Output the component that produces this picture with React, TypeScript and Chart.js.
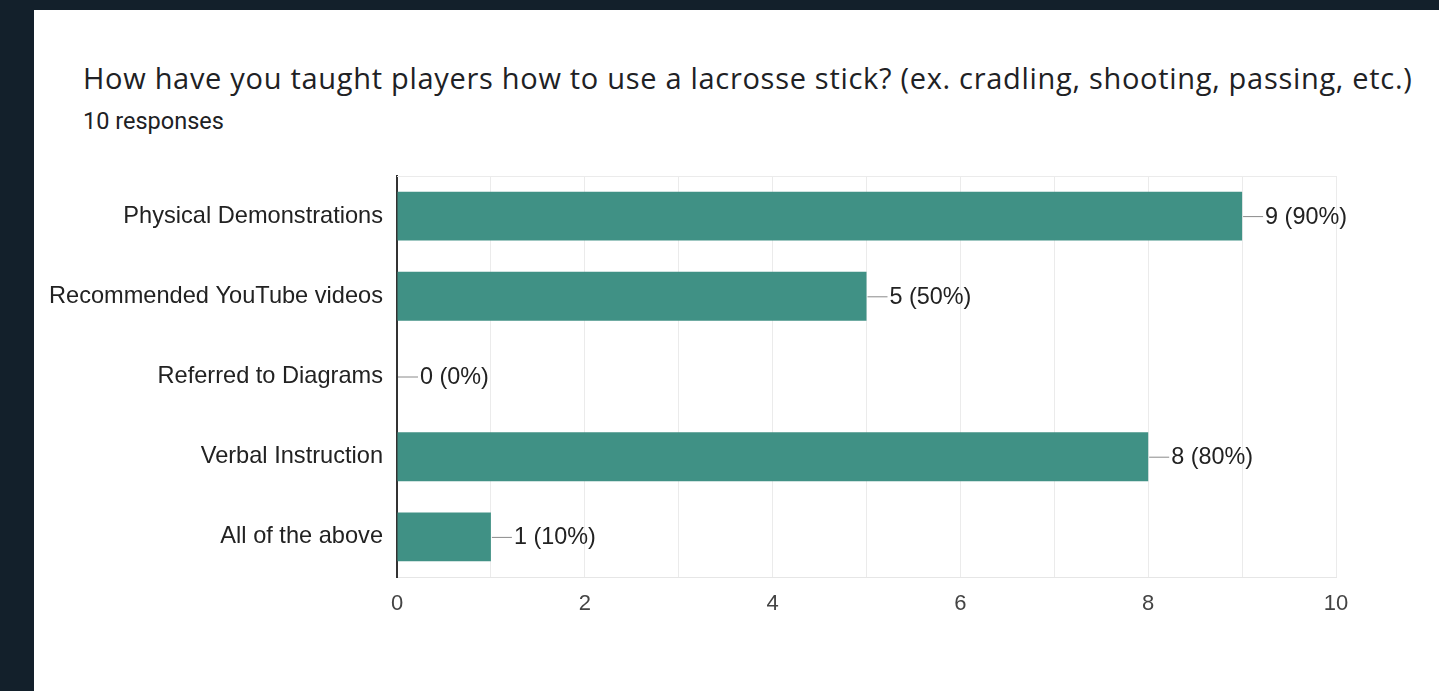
import React, { useEffect, useRef } from "react";
import { Chart, registerables } from "chart.js";

Chart.register(...registerables);

const TITLE = "How have you taught players how to use a lacrosse stick? (ex. cradling, shooting, passing, etc.)";
const RESPONSES = 10;
const categories = [
  "Physical Demonstrations",
  "Recommended YouTube videos",
  "Referred to Diagrams",
  "Verbal Instruction",
  "All of the above",
];
const counts = [9, 5, 0, 8, 1];
const xTicks = [0, 2, 4, 6, 8, 10];

const W = 1439;
const H = 691;

const valueLabels = {
  id: "valueLabels",
  afterDatasetsDraw(chart: any) {
    const ctx = chart.ctx;
    const meta = chart.getDatasetMeta(0);
    ctx.save();
    meta.data.forEach((el: any, i: number) => {
      const v = counts[i];
      const x = el.x;
      const y = el.y;
      ctx.strokeStyle = "#8a8a8a";
      ctx.lineWidth = 1;
      ctx.beginPath();
      ctx.moveTo(x + 1, y + 0.5);
      ctx.lineTo(x + 21, y + 0.5);
      ctx.stroke();
      ctx.fillStyle = "#222222";
      ctx.font = "23.4px 'Liberation Sans', Arial, sans-serif";
      ctx.textBaseline = "middle";
      ctx.textAlign = "left";
      ctx.fillText(`${v} (${Math.round((v / RESPONSES) * 100)}%)`, x + 23, y + 1);
    });
    ctx.restore();
  },
};

const topLine = {
  id: "topLine",
  beforeDatasetsDraw(chart: any) {
    const { ctx, chartArea } = chart;
    ctx.save();
    ctx.strokeStyle = "#ebebeb";
    ctx.lineWidth = 1;
    ctx.beginPath();
    ctx.moveTo(chartArea.left, chartArea.top + 0.5);
    ctx.lineTo(chartArea.right, chartArea.top + 0.5);
    ctx.stroke();
    ctx.restore();
  },
};

export default function App() {
  const ref = useRef<HTMLCanvasElement | null>(null);
  useEffect(() => {
    if (!ref.current) return;
    const chart = new Chart(ref.current, {
      type: "bar",
      data: {
        labels: categories,
        datasets: [
          {
            data: counts,
            backgroundColor: "#409185",
            borderWidth: 0,
            barPercentage: 0.61,
            categoryPercentage: 1,
          },
        ],
      },
      options: {
        indexAxis: "y",
        responsive: false,
        animation: false,
        devicePixelRatio: 1,
        layout: { padding: { left: 0, top: 176, right: 103, bottom: 74 } },
        plugins: {
          legend: { display: false },
          tooltip: { enabled: false },
          title: { display: false },
        },
        scales: {
          x: {
            min: 0,
            max: 10,
            afterFit(scale: any) {
              scale.height = 40;
            },
            ticks: {
              stepSize: 1,
              autoSkip: false,
              maxRotation: 0,
              padding: 14,
              color: "#444444",
              font: { family: "'Liberation Sans', Arial, sans-serif", size: 22 },
              callback: (v: any) => (xTicks.includes(Number(v)) ? String(v) : ""),
            },
            grid: { color: "#ebebeb", drawTicks: false, lineWidth: 1 },
            border: { display: true, color: "#e6e6e6", width: 1 },
          },
          y: {
            afterFit(scale: any) {
              scale.width = 397;
            },
            ticks: {
              padding: 14,
              color: "#222222",
              font: { family: "'Liberation Sans', Arial, sans-serif", size: 23.6 },
            },
            grid: { display: false, drawTicks: false },
            border: { display: true, color: "#333333", width: 2 },
          },
        },
      },
      plugins: [topLine, valueLabels],
    } as any);
    return () => chart.destroy();
  }, []);

  return (
    <div style={{ position: "fixed", left: 0, top: 0, width: W, height: H, background: "#13202b", overflow: "hidden" }}>
      <div style={{ position: "absolute", left: 34, top: 10, right: 0, bottom: 0, background: "#ffffff" }} />
      <div
        style={{
          position: "absolute",
          left: 83,
          top: 58,
          fontFamily: "'Open Sans', Roboto, sans-serif",
          fontSize: 29,
          letterSpacing: "0.7px",
          color: "#202124",
          whiteSpace: "nowrap",
          lineHeight: "40px",
        }}
      >
        {TITLE}
      </div>
      <div
        style={{
          position: "absolute",
          left: 83,
          top: 106,
          fontFamily: "Roboto, 'Noto Sans', sans-serif",
          fontSize: 23.5,
          color: "#202124",
          whiteSpace: "nowrap",
          lineHeight: "30px",
        }}
      >
        {RESPONSES} responses
      </div>
      <canvas ref={ref} width={W} height={H} style={{ position: "absolute", left: 0, top: 0, width: W, height: H }} />
    </div>
  );
}
